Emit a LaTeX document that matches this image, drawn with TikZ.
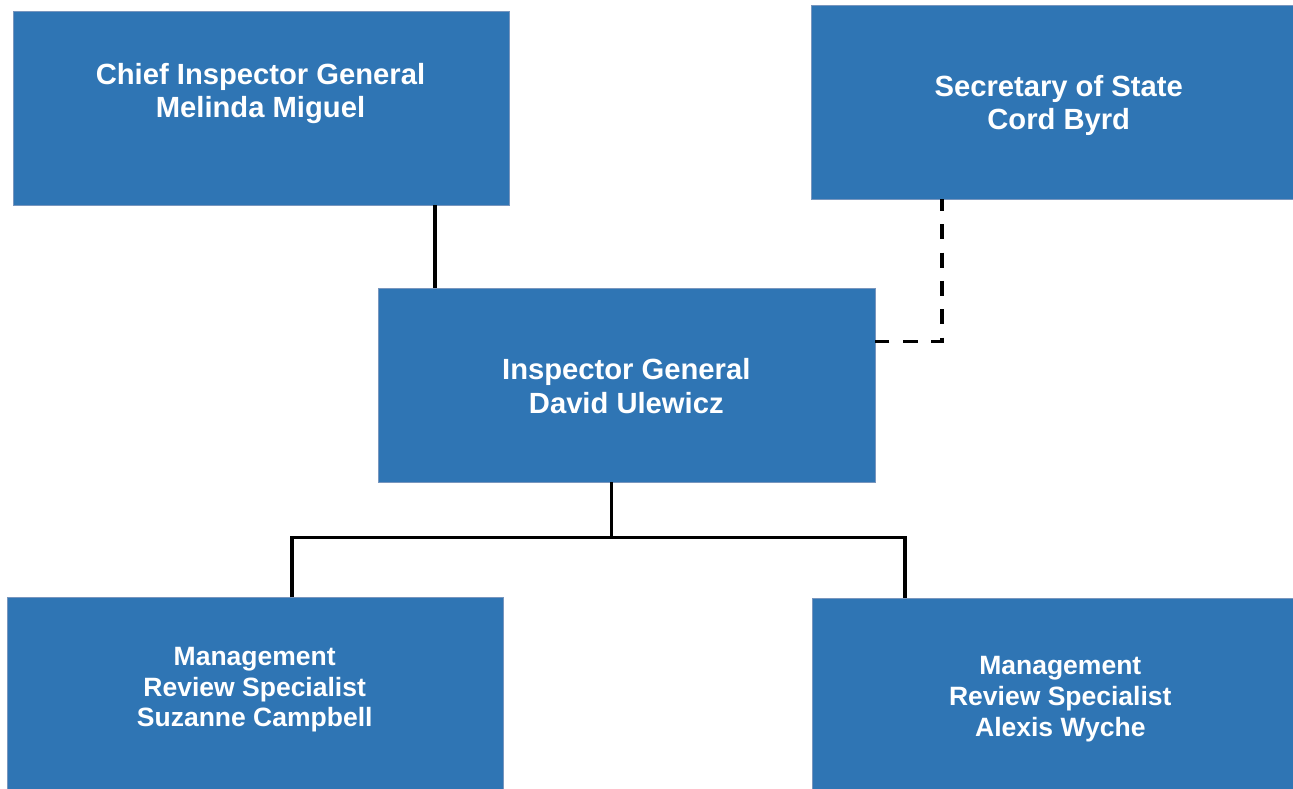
\documentclass[tikz,border=0pt]{standalone}
\usepackage{fontspec}
\setmainfont{Liberation Sans}
\definecolor{boxfill}{RGB}{47,117,180}
\definecolor{boxline}{RGB}{120,150,190}
\begin{document}
\begin{tikzpicture}[x=1pt,y=-1pt,
  orgbox/.style={draw=boxline, line width=0.8pt, fill=boxfill, inner sep=0pt, outer sep=0pt, rectangle},
  bigtxt/.style={anchor=base, inner sep=0pt, text=white, font=\fontsize{29.2}{33.5}\selectfont\bfseries},
  smalltxt/.style={anchor=base, inner sep=0pt, text=white, font=\fontsize{26.5}{31}\selectfont\bfseries},
  conn/.style={line width=3.3pt, black},
  dashconn/.style={line width=3.3pt, black, dash pattern=on 15pt off 13.3pt, dash phase=3pt}]
\useasboundingbox (0,0) rectangle (1293,789);
\clip (0,0) rectangle (1293,789);
\fill[white] (0,0) rectangle (1293,789);
% boxes
\node[orgbox, minimum width=496pt, minimum height=194pt] (b1) at (261,108) {};
\node[orgbox, minimum width=489pt, minimum height=194pt] (b2) at (1055.5,102) {};
\node[orgbox, minimum width=496.5pt, minimum height=194pt] (b3) at (626.75,385.3) {};
\node[orgbox, minimum width=496.3pt, minimum height=202.7pt] (b4) at (255.15,698.65) {};
\node[orgbox, minimum width=487.3pt, minimum height=201.7pt] (b5) at (1056.35,699.15) {};
% texts
\node[bigtxt] (t1a) at (260.5,85) {Chief Inspector General};
\node[bigtxt] (t1b) at (260.5,118) {Melinda Miguel};
\node[bigtxt] (t2a) at (1058.7,96.7) {Secretary of State};
\node[bigtxt] (t2b) at (1058.7,129.3) {Cord Byrd};
\node[bigtxt] (t3a) at (626.3,379.3) {Inspector General};
\node[bigtxt] (t3b) at (626.3,413.3) {David Ulewicz};
\node[smalltxt] (t4a) at (254.7,665) {Management};
\node[smalltxt] (t4b) at (254.7,696) {Review Specialist};
\node[smalltxt] (t4c) at (254.7,726.7) {Suzanne Campbell};
\node[smalltxt] (t5a) at (1060.3,674) {Management};
\node[smalltxt] (t5b) at (1060.3,705) {Review Specialist};
\node[smalltxt] (t5c) at (1060.3,736) {Alexis Wyche};
% connector points
\coordinate (x1) at (435,0);
\coordinate (k) at (942,341.5);
\coordinate (j) at (611.5,537.5);
\coordinate (l) at (292,537.5);
\coordinate (r) at (905,537.5);
% connectors
\draw[conn] (x1 |- b1.south) -- (x1 |- b3.north);
\draw[dashconn] (k |- b2.south) -- (k) -- (k -| b3.east);
\draw[conn] (j |- b3.south) -- (j);
\draw[conn] (l |- b4.north) -- (l) -- (r) -- (r |- b5.north);
\end{tikzpicture}
\end{document}
